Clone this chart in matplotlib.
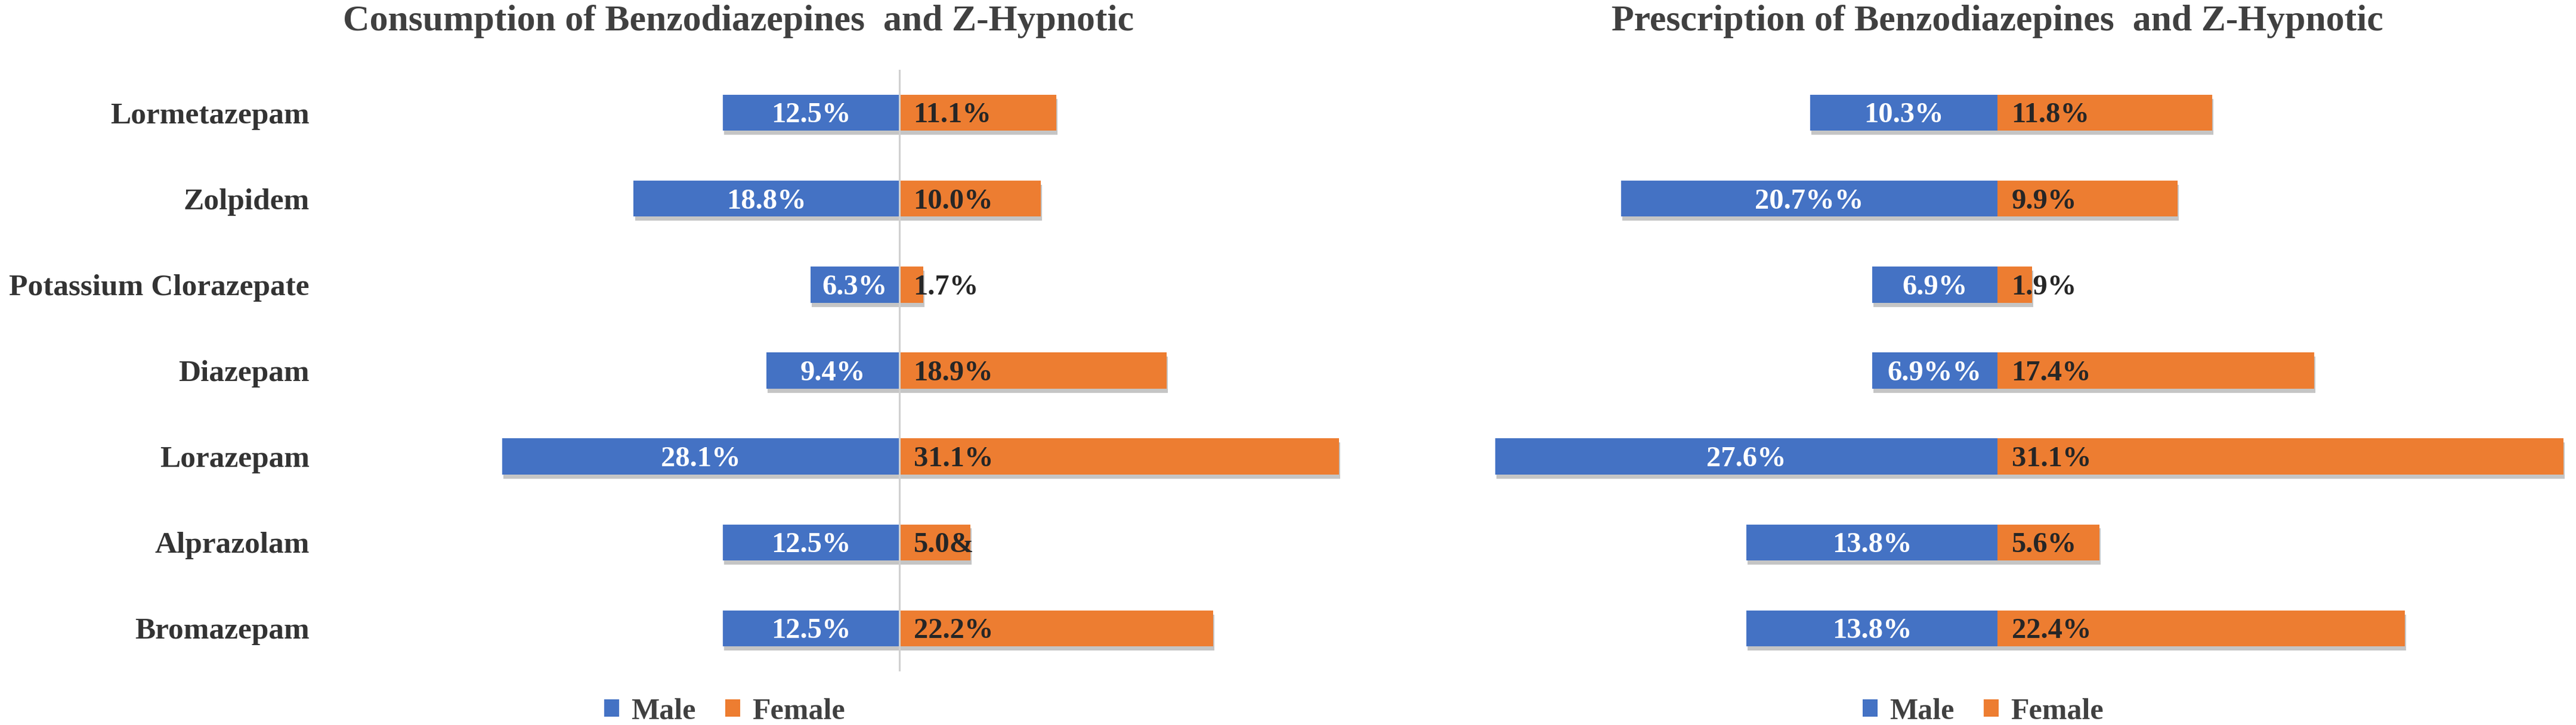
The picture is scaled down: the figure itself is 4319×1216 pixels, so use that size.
import matplotlib
matplotlib.use("Agg")
import matplotlib.pyplot as plt
import matplotlib.patheffects as pe
from matplotlib.patches import Patch

drugs = ["Lormetazepam", "Zolpidem", "Potassium Clorazepate", "Diazepam",
         "Lorazepam", "Alprazolam", "Bromazepam"]

cons_male = [12.5, 18.8, 6.3, 9.4, 28.1, 12.5, 12.5]
cons_female = [11.1, 10.0, 1.7, 18.9, 31.1, 5.0, 22.2]
cons_male_labels = ["12.5%", "18.8%", "6.3%", "9.4%", "28.1%", "12.5%", "12.5%"]
cons_female_labels = ["11.1%", "10.0%", "1.7%", "18.9%", "31.1%", "5.0&", "22.2%"]

pres_male = [10.3, 20.7, 6.9, 6.9, 27.6, 13.8, 13.8]
pres_female = [11.8, 9.9, 1.9, 17.4, 31.1, 5.6, 22.4]
pres_male_labels = ["10.3%", "20.7%%", "6.9%", "6.9%%", "27.6%", "13.8%", "13.8%"]
pres_female_labels = ["11.8%", "9.9%", "1.9%", "17.4%", "31.1%", "5.6%", "22.4%"]

titles = ["Consumption of Benzodiazepines  and Z-Hypnotic",
          "Prescription of Benzodiazepines  and Z-Hypnotic"]
legend_labels = ["Male", "Female"]

BLUE = "#4472C4"
ORANGE = "#ED7D31"
SERIF = ["Liberation Serif", "DejaVu Serif"]

W, H = 4319, 1216
fig = plt.figure(figsize=(W / 100, H / 100), dpi=100)
fig.patch.set_facecolor("white")

shadow = [pe.withSimplePatchShadow(offset=(1.5, -5), shadow_rgbFace="#7f7f7f", alpha=0.45)]


def px_box(x0, x1, y0, y1):
    return [x0 / W, 1 - y1 / H, (x1 - x0) / W, (y1 - y0) / H]


def draw(ax, male, female, mlab, flab, xlim, show_labels, center_line):
    y = list(range(len(drugs)))
    neg = [-v for v in male]
    ax.barh(y, neg, height=0.42, color=BLUE, path_effects=shadow, zorder=2)
    ax.barh(y, female, height=0.42, color=ORANGE, path_effects=shadow, zorder=2)
    ax.set_xlim(*xlim)
    ax.set_ylim(6.5, -0.5)
    for s in ax.spines.values():
        s.set_visible(False)
    ax.set_xticks([])
    if show_labels:
        ax.set_yticks(y)
        ax.set_yticklabels(drugs, fontfamily=SERIF, fontweight="bold",
                           fontsize=37, color="#333333")
        ax.tick_params(axis="y", length=0, pad=8)
    else:
        ax.set_yticks([])
    if center_line:
        ax.axvline(0, color="#d0d0d0", lw=2.2, zorder=3)
    for yi, v, t in zip(y, male, mlab):
        ax.text(-v / 2, yi + 0.03, t, ha="center", va="center", color="white",
                fontfamily=SERIF, fontweight="bold", fontsize=35, zorder=4)
    for yi, v, t in zip(y, female, flab):
        ax.annotate(t, (0, yi + 0.03), xytext=(17, 0), textcoords="offset points",
                    ha="left", va="center", color="#262626",
                    fontfamily=SERIF, fontweight="bold", fontsize=35, zorder=4)


ax1 = fig.add_axes(px_box(530, 2260, 117, 1126))
draw(ax1, cons_male, cons_female, cons_male_labels, cons_female_labels,
     ((530 - 1508) / 23.7, (2260 - 1508) / 23.7), True, True)

ax2 = fig.add_axes(px_box(2480, 4310, 117, 1126))
draw(ax2, pres_male, pres_female, pres_male_labels, pres_female_labels,
     ((2480 - 3349) / 30.5, (4310 - 3349) / 30.5), False, False)

fig.text(1238 / W, 1 - 51 / H, titles[0], ha="center", va="baseline",
         fontfamily=SERIF, fontweight="bold", fontsize=44.5, color="#404040")
fig.text(3349 / W, 1 - 51 / H, titles[1], ha="center", va="baseline",
         fontfamily=SERIF, fontweight="bold", fontsize=44.5, color="#404040")

handles = [Patch(facecolor=BLUE), Patch(facecolor=ORANGE)]
for cx in (1215, 3325):
    fig.legend(handles, legend_labels, loc="center",
               bbox_to_anchor=(cx / W, 1 - 1193 / H), ncol=2, frameon=False,
               prop={"family": SERIF, "weight": "bold", "size": 36},
               labelcolor="#404040", handlelength=0.5, handleheight=0.5,
               handletextpad=0.4, columnspacing=1.0)

fig.savefig("out.png", dpi=100, facecolor="white")
